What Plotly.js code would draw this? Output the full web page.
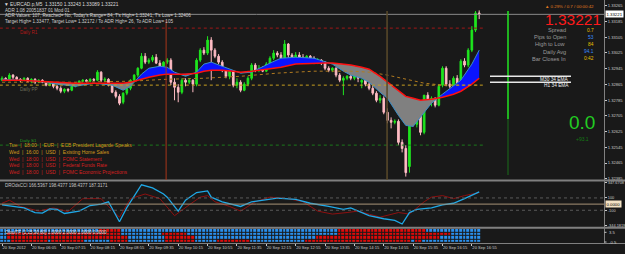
<!DOCTYPE html>
<html><head><meta charset="utf-8">
<script src="https://cdn.plot.ly/plotly-3.0.1.min.js"></script>
<style>html,body{margin:0;padding:0;background:#191919;overflow:hidden}#chart{width:625px;height:254px}</style>
</head><body><div id="chart"></div>
<script>
// ---------------- DATA ----------------
const symbolTitle = "\u25BC EURCAD.p,M5  1.33150 1.33243 1.33089 1.33221";
const infoLines = [
  "ADR 1.08 20051837 01 Mod 01",
  "ADR Values: 107, Reached= No, Today's Range= 84, T's High= 1.33241, T's Low= 1.32406",
  "Target High= 1.33477, Target Low= 1.32172 / To ADR High= 26, To ADR Low= 105"
];
const timeLabels = ["20 Sep 2012","20 Sep 06:05","20 Sep 07:15","20 Sep 08:15","20 Sep 08:55","20 Sep 09:35","20 Sep 10:15","20 Sep 10:55","20 Sep 11:35","20 Sep 12:15","20 Sep 12:55","20 Sep 13:35","20 Sep 14:15","20 Sep 14:55","20 Sep 15:35","20 Sep 16:15","20 Sep 16:55"];
const labelBars = [0,8,16,24,32,40,48,56,64,72,80,88,96,104,112,120,128];

const opens = [1.32886,1.32896,1.32886,1.32912,1.32901,1.32891,1.32886,1.32896,1.32881,1.32891,
1.32876,1.32886,1.32876,1.32861,1.32871,1.32855,1.32845,1.32830,1.32840,1.32835,
1.32855,1.32871,1.32881,1.32886,1.32881,1.32891,1.32886,1.32927,1.32886,1.32891,
1.32861,1.32825,1.32804,1.32774,1.32820,1.32845,1.32886,1.32912,1.32947,1.33008,
1.32978,1.32988,1.33003,1.32973,1.32957,1.32978,1.32988,1.32876,1.32850,1.32825,
1.32886,1.32876,1.32886,1.32866,1.32988,1.33039,1.33024,1.33090,1.33039,1.33008,
1.32978,1.32937,1.32906,1.32932,1.32861,1.32876,1.32835,1.32866,1.32896,1.32963,
1.32937,1.32947,1.32932,1.32968,1.32998,1.33024,1.33014,1.32998,1.33070,1.33014,
1.32988,1.33014,1.33003,1.32983,1.33008,1.32998,1.32978,1.32988,1.32973,1.32947,
1.32937,1.32947,1.32912,1.32886,1.32896,1.32906,1.32896,1.32917,1.32876,1.32886,
1.32866,1.32845,1.32820,1.32784,1.32794,1.32723,1.32682,1.32672,1.32677,1.32570,
1.32539,1.32447,1.32687,1.32662,1.32738,1.32621,1.32810,1.32774,1.32794,1.32759,
1.32861,1.32947,1.32866,1.32855,1.32896,1.32866,1.32983,1.32963,1.33039,1.33141,1.33228];
const highs = [1.32906,1.32901,1.32922,1.32917,1.32906,1.32896,1.32901,1.32901,1.32896,1.32896,
1.32891,1.32891,1.32881,1.32876,1.32876,1.32861,1.32855,1.32845,1.32845,1.32861,
1.32876,1.32886,1.32891,1.32891,1.32896,1.32896,1.32937,1.32932,1.32901,1.32896,
1.32866,1.32835,1.32815,1.32825,1.32850,1.32891,1.32917,1.32952,1.33024,1.33024,
1.32998,1.33014,1.33019,1.32988,1.32983,1.32998,1.32998,1.32896,1.32866,1.32896,
1.32896,1.32896,1.32891,1.32998,1.33049,1.33054,1.33110,1.33105,1.33049,1.33019,
1.32988,1.32947,1.32937,1.32937,1.32896,1.32886,1.32876,1.32906,1.32973,1.32973,
1.32963,1.32957,1.32978,1.33008,1.33039,1.33034,1.33029,1.33090,1.33075,1.33024,
1.33029,1.33029,1.33019,1.33014,1.33014,1.33008,1.32998,1.32993,1.32983,1.32957,
1.32952,1.32952,1.32922,1.32906,1.32912,1.32917,1.32927,1.32927,1.32891,1.32891,
1.32876,1.32861,1.32830,1.32810,1.32804,1.32743,1.32697,1.32687,1.32687,1.32585,
1.32555,1.32702,1.32702,1.32753,1.32779,1.32784,1.32825,1.32804,1.32799,1.32866,
1.32957,1.32957,1.32886,1.32906,1.32912,1.32993,1.32998,1.33049,1.33161,1.33238,1.33241];
const lows = [1.32881,1.32881,1.32881,1.32891,1.32886,1.32876,1.32881,1.32876,1.32871,1.32866,
1.32871,1.32871,1.32855,1.32855,1.32845,1.32835,1.32820,1.32820,1.32825,1.32830,
1.32850,1.32866,1.32876,1.32876,1.32876,1.32881,1.32881,1.32876,1.32876,1.32855,
1.32820,1.32794,1.32759,1.32764,1.32810,1.32835,1.32876,1.32901,1.32942,1.32968,
1.32968,1.32978,1.32968,1.32947,1.32952,1.32968,1.32861,1.32784,1.32774,1.32815,
1.32855,1.32866,1.32825,1.32855,1.32978,1.33014,1.33014,1.32886,1.32998,1.32968,
1.32927,1.32896,1.32891,1.32850,1.32845,1.32825,1.32830,1.32855,1.32886,1.32927,
1.32927,1.32927,1.32927,1.32957,1.32988,1.33003,1.32988,1.32988,1.32998,1.32978,
1.32983,1.32993,1.32973,1.32978,1.32978,1.32968,1.32968,1.32963,1.32937,1.32927,
1.32927,1.32901,1.32876,1.32810,1.32886,1.32886,1.32886,1.32876,1.32845,1.32855,
1.32835,1.32810,1.32774,1.32769,1.32713,1.32667,1.32641,1.32662,1.32555,1.32519,
1.32396,1.32416,1.32651,1.32646,1.32606,1.32611,1.32764,1.32753,1.32748,1.32753,
1.32850,1.32855,1.32845,1.32845,1.32855,1.32855,1.32952,1.32952,1.33029,1.33131,1.33197];
const closes = [1.32896,1.32886,1.32912,1.32901,1.32891,1.32886,1.32896,1.32881,1.32891,1.32876,
1.32886,1.32876,1.32861,1.32871,1.32855,1.32845,1.32830,1.32840,1.32835,1.32855,
1.32871,1.32881,1.32886,1.32881,1.32891,1.32886,1.32927,1.32886,1.32891,1.32861,
1.32825,1.32804,1.32769,1.32820,1.32845,1.32886,1.32912,1.32947,1.33008,1.32978,
1.32988,1.33003,1.32973,1.32957,1.32978,1.32988,1.32876,1.32850,1.32825,1.32886,
1.32876,1.32886,1.32866,1.32988,1.33039,1.33024,1.33090,1.33039,1.33008,1.32978,
1.32937,1.32906,1.32932,1.32861,1.32876,1.32835,1.32866,1.32896,1.32963,1.32937,
1.32947,1.32932,1.32968,1.32998,1.33024,1.33014,1.32998,1.33070,1.33014,1.32988,
1.33014,1.33003,1.32983,1.33008,1.32998,1.32978,1.32988,1.32973,1.32947,1.32937,
1.32947,1.32912,1.32886,1.32896,1.32906,1.32896,1.32917,1.32896,1.32886,1.32866,
1.32845,1.32820,1.32784,1.32794,1.32723,1.32682,1.32672,1.32677,1.32570,1.32539,
1.32416,1.32687,1.32667,1.32738,1.32621,1.32810,1.32774,1.32794,1.32759,1.32855,
1.32947,1.32866,1.32855,1.32896,1.32866,1.32983,1.32963,1.33039,1.33141,1.33228,1.33221];

// moving averages (read at sampled bars)
const maBars = [0,5,10,15,20,25,30,33,35,38,40,43,45,47,50,53,55,57,60,63,65,68,70,73,76,80,85,88,90,93,95,98,100,103,105,108,110,112,114,117,120,123,125,128,130];
const fastMA = [1.32891,1.32886,1.32881,1.32866,1.32855,1.32871,1.32861,1.32835,1.32855,1.32917,1.32947,1.32957,1.32952,1.32927,1.32906,1.32927,1.32968,1.32978,1.32957,1.32937,1.32922,1.32927,1.32947,1.32973,1.32998,1.33003,1.32998,1.32978,1.32968,1.32932,1.32912,1.32896,1.32876,1.32825,1.32794,1.32707,1.32656,1.32651,1.32697,1.32769,1.32815,1.32855,1.32886,1.32968,1.33039];
const slowMA = [1.32886,1.32886,1.32881,1.32876,1.32871,1.32871,1.32871,1.32871,1.32876,1.32891,1.32901,1.32912,1.32917,1.32917,1.32917,1.32922,1.32932,1.32937,1.32937,1.32932,1.32927,1.32932,1.32937,1.32947,1.32952,1.32968,1.32973,1.32973,1.32973,1.32968,1.32963,1.32952,1.32942,1.32906,1.32876,1.32830,1.32804,1.32794,1.32784,1.32789,1.32799,1.32815,1.32830,1.32866,1.32896];
const longBars = [0,20,35,45,55,65,75,85,95,100,105,110,115,120,125,130];
const longMA = [1.32876,1.32876,1.32881,1.32891,1.32896,1.32906,1.32922,1.32932,1.32932,1.32927,1.32912,1.32891,1.32871,1.32861,1.32861,1.32861];

// pivots & levels
const pivotNames = ["Daily R1","Daily PP","Daily S1"];
const pivotPrices = [1.33151,1.32861,1.32556];
const bidPrice = 1.33221;
const emaLevelNames = ["M30 34 EMA","H1 34 EMA"];
const emaLevelPrices = [1.32906,1.32876];
const priceTicks = [1.32385,1.32465,1.32545,1.32625,1.32705,1.32785,1.32865,1.32945,1.33025,1.33105,1.33185,1.33265];

// CCI
const cciLabel = "DROdsCCI 166.5367 198.4377 198.4377 187.3171";
const cciFastBars = [0,3,6,9,11,13,15,17,21,24,27,29,32,34,36,38,41,44,45,48,50,53,56,57,60,65,68,71,75,80,84,89,93,95,97,100,104,107,109,111,113,117,120,123,126,130];
const cciFast = [-12,-38,-62,-137,-147,-77,-87,-152,-113,-23,-2,38,-287,-57,138,314,263,164,113,-113,63,188,214,113,38,-38,38,63,98,78,14,-38,-87,-62,-113,-188,-238,-263,-323,-137,-87,-62,-12,14,89,198];
const cciSlowBars = [0,2,5,10,14,18,22,27,29,32,35,39,43,47,51,54,56,58,62,65,69,73,78,82,86,90,94,97,103,108,111,115,117,120,123,126,130];
const cciSlow = [14,63,-38,-113,-62,-122,89,89,-38,-212,89,164,89,-188,-12,113,138,38,-38,-113,38,113,89,38,-113,-162,-137,-113,-212,-137,-162,38,113,138,89,138,187];
const cciTicks = [347.6708,100,-100,-344.1819];

// multi-timeframe strip (runs of B=blue/up, R=red/down), top row first
const tfLabel = "OloulTF (1,15,30,60) 1.0000 2.0000 1.0000 0.0000";
const tfAxisLabels = ["3.5","-0.5"];
const tfRows = [
  [["B",27],["R",6],["B",59],["R",24],["B",15]],
  [["B",2],["R",31],["B",11],["R",7],["B",41],["R",31],["B",8]],
  [["B",2],["R",33],["B",10],["R",8],["B",33],["R",34],["B",11]],
  [["B",3],["R",10],["B",1],["R",9],["B",7],["R",5],["B",10],["R",8],["B",6],["R",9],["B",15],["R",29],["B",1],["R",2],["B",16]]
];

// news / info panel
const newsLines = [
  {t:"Tue  |  18:00  |  EUR  |  ECB President Lagarde Speaks", c:"#d49a1c"},
  {t:"Wed  |  16:00  |  USD  |  Existing Home Sales", c:"#d49a1c"},
  {t:"Wed  |  18:00  |  USD  |  FOMC Statement", c:"#d42020"},
  {t:"Wed  |  18:00  |  USD  |  Federal Funds Rate", c:"#d42020"},
  {t:"Wed  |  18:00  |  USD  |  FOMC Economic Projections", c:"#d42020"}
];
const infoNames = ["Spread","Pips to Open","High to Low","Daily Avg","Bar Closes In"];
const infoValues = ["0.7","53","84","94.1","0:42"];
const infoColors = ["#e8c000","#3a8cff","#e8c000","#3a8cff","#e8c000"];
const headerRight = "\u25B2 0.29% / 0.7 / 00:00:42";
const bigPrice = "1.33221";
const bigPips = "0.0";
const pipsChange = "+93.1";
const eventBars = [44.7, 104.9];

// ---------------- LAYOUT HELPERS ----------------
const PW = 604, PH = 243;
const px = x => x / PW;
const py = y => 1 - y / PH;
const F = "Liberation Sans, Arial, sans-serif";
const bars = closes.map((_, i) => i);

function ribbon(idx, fast, slow) {
  const xs = [], f = [], s = [];
  for (let k = 0; k < idx.length; k++) {
    if (k > 0) {
      const d0 = fast[k-1] - slow[k-1], d1 = fast[k] - slow[k];
      if (d0 * d1 < 0) {
        const t = d0 / (d0 - d1);
        xs.push(idx[k-1] + t * (idx[k] - idx[k-1]));
        const v = slow[k-1] + t * (slow[k] - slow[k-1]);
        f.push(v); s.push(v);
      }
    }
    xs.push(idx[k]); f.push(fast[k]); s.push(slow[k]);
  }
  return {xs, f, s};
}
const rb = ribbon(maBars, fastMA, slowMA);
const upper = rb.f.map((v, i) => Math.max(v, rb.s[i]));
const lower = rb.f.map((v, i) => Math.min(v, rb.s[i]));

const traces = [];
traces.push({x: rb.xs, y: rb.s, mode: 'lines', line: {width: 0}, xaxis: 'x', yaxis: 'y', hoverinfo: 'skip'});
traces.push({x: rb.xs, y: upper, mode: 'lines', line: {width: 0}, fill: 'tonexty', fillcolor: '#0a14ff', xaxis: 'x', yaxis: 'y', hoverinfo: 'skip'});
traces.push({x: rb.xs, y: rb.s, mode: 'lines', line: {width: 0}, xaxis: 'x', yaxis: 'y', hoverinfo: 'skip'});
traces.push({x: rb.xs, y: lower, mode: 'lines', line: {width: 0}, fill: 'tonexty', fillcolor: '#808080', xaxis: 'x', yaxis: 'y', hoverinfo: 'skip'});
traces.push({x: maBars, y: fastMA, mode: 'lines', line: {color: '#3a8ec8', width: 1}, xaxis: 'x', yaxis: 'y'});
traces.push({x: longBars, y: longMA, mode: 'lines', line: {color: '#b07a20', width: 1, dash: 'dot'}, xaxis: 'x', yaxis: 'y'});
traces.push({x: maBars, y: slowMA, mode: 'lines', line: {color: '#ff1010', width: 1.5}, xaxis: 'x', yaxis: 'y'});
traces.push({type: 'candlestick', x: bars, open: opens, high: highs, low: lows, close: closes,
  increasing: {line: {color: '#1ee61e', width: 1}, fillcolor: '#1ee61e'},
  decreasing: {line: {color: '#ffbcc4', width: 1}, fillcolor: '#ffbcc4'},
  whiskerwidth: 0, xaxis: 'x', yaxis: 'y', hoverinfo: 'skip'});
traces.push({x: cciSlowBars, y: cciSlow, mode: 'lines', line: {color: '#8e1010', width: 1}, xaxis: 'x', yaxis: 'y2'});
traces.push({x: cciFastBars, y: cciFast, mode: 'lines', line: {color: '#1fa8e6', width: 1.3}, xaxis: 'x', yaxis: 'y2'});
const zRows = tfRows.map(runs => { const r = []; runs.forEach(([c, n]) => { for (let k = 0; k < n; k++) r.push(c === 'B' ? 1 : 0); }); return r; });
traces.push({type: 'heatmap', x: bars, y: [3,2,1,0], z: zRows, zmin: 0, zmax: 1,
  colorscale: [[0, '#e00a0a'], [1, '#2a90ee']], showscale: false, xgap: 1, ygap: 1, xaxis: 'x', yaxis: 'y3', hoverinfo: 'skip'});

// ---------------- SHAPES ----------------
const shapes = [];
const grey = '#808080';
shapes.push({type: 'line', xref: 'paper', yref: 'paper', x0: 0, x1: px(625), y0: py(180.5), y1: py(180.5), line: {color: grey, width: 2}});
shapes.push({type: 'line', xref: 'paper', yref: 'paper', x0: 0, x1: px(625), y0: py(227.8), y1: py(227.8), line: {color: grey, width: 2}});
shapes.push({type: 'line', xref: 'paper', yref: 'paper', x0: 0, x1: px(625), y0: py(243.5), y1: py(243.5), line: {color: grey, width: 1}});
shapes.push({type: 'line', xref: 'paper', yref: 'paper', x0: px(604.5), x1: px(604.5), y0: py(0), y1: py(243.5), line: {color: grey, width: 1}});
shapes.push({type: 'line', xref: 'paper', yref: 'y', x0: 0, x1: 1, y0: bidPrice, y1: bidPrice, line: {color: '#8a8a8a', width: 1}});
const pivColors = ['#a01818', '#c8a020', '#1c7a1c'];
pivotPrices.forEach((p, i) => shapes.push({type: 'line', xref: 'x', yref: 'y', x0: -0.6, x1: 131, y0: p, y1: p, line: {color: pivColors[i], width: 1, dash: 'dot'}}));
shapes.push({type: 'line', xref: 'x', yref: 'paper', x0: eventBars[0], x1: eventBars[0], y0: py(20), y1: py(180), line: {color: '#a8361a', width: 1}});
shapes.push({type: 'line', xref: 'x', yref: 'paper', x0: eventBars[1], x1: eventBars[1], y0: py(11), y1: py(180), line: {color: '#5a4a2a', width: 1.5}});
shapes.push({type: 'line', xref: 'paper', yref: 'paper', x0: px(508), x1: px(508), y0: py(11), y1: py(119), line: {color: '#22e622', width: 1.5}});
shapes.push({type: 'line', xref: 'paper', yref: 'paper', x0: px(508), x1: px(508), y0: py(119), y1: py(175), line: {color: '#1a6e1a', width: 1}});
emaLevelPrices.forEach(p => shapes.push({type: 'line', xref: 'paper', yref: 'y', x0: px(490), x1: px(571), y0: p, y1: p, line: {color: '#e8e8e8', width: 1.5}}));
shapes.push({type: 'line', xref: 'paper', yref: 'y2', x0: 0, x1: 1, y0: 100, y1: 100, line: {color: '#5a5a5a', width: 1, dash: 'dot'}});
shapes.push({type: 'line', xref: 'paper', yref: 'y2', x0: 0, x1: 1, y0: -100, y1: -100, line: {color: '#5a5a5a', width: 1, dash: 'dot'}});
shapes.push({type: 'line', xref: 'paper', yref: 'y2', x0: 0, x1: 1, y0: 0, y1: 0, line: {color: '#a89478', width: 1}});
[232.3, 242].forEach(y => shapes.push({type: 'line', xref: 'paper', yref: 'paper', x0: px(604.5), x1: px(606.5), y0: py(y), y1: py(y), line: {color: '#c8c8c8', width: 1}}));

// ---------------- ANNOTATIONS ----------------
const ann = [];
function txt(t, x, y, size, color, anchor, extra) {
  ann.push(Object.assign({text: t, xref: 'paper', yref: 'paper', x: px(x), y: py(y), xanchor: anchor || 'left', yanchor: 'middle',
    showarrow: false, font: {family: F, size: size, color: color}}, extra || {}));
}
txt(symbolTitle, 2, 4.5, 4.8, '#dcdcdc');
infoLines.forEach((t, i) => txt(t, 3, 10.2 + i * 5.7, 4.6, '#d0d0d0'));
txt(pivotNames[0], 18, 32.3, 4.6, '#b01818');
txt(pivotNames[1], 18, 89, 4.6, '#6e6e5a');
txt(pivotNames[2], 18, 140.2, 4.4, '#22a022');
newsLines.forEach((n, i) => txt(n.t, 7, 144.8 + i * 6.85, 5, n.c));
txt(headerRight, 596, 6.7, 4.4, '#e07a20', 'right');
txt(bigPrice, 603, 19.6, 15.5, '#ff1a1a', 'right');
infoNames.forEach((n, i) => {
  const yy = 30 + i * 7.2;
  txt(n, 568, yy, 5.6, '#9a9a9a', 'right');
  txt(infoValues[i], 596, yy, 4.8, infoColors[i], 'right');
});
emaLevelNames.forEach((n, i) => txt(n, 571, 79.5 + i * 6.5, 4.8, '#f0f0f0', 'right'));
txt(bigPips, 597, 122.5, 19, '#22cc22', 'right');
txt(pipsChange, 591, 139, 5, '#147a14', 'right');
txt(cciLabel, 3, 185.5, 4.5, '#c8c8c8');
txt(tfLabel, 3, 232, 4.5, '#e8e8e8');
txt(tfAxisLabels[0], 607, 232.3, 4.2, '#c8c8c8');
txt(tfAxisLabels[1], 607, 242, 4.2, '#c8c8c8');
ann.push({text: bidPrice.toFixed(5), xref: 'paper', yref: 'y', x: px(605), y: bidPrice, xanchor: 'left', yanchor: 'middle', showarrow: false,
  bgcolor: '#ffffff', borderpad: 0.5, font: {family: F, size: 4.3, color: '#000000'}});
ann.push({text: '0.0000', xref: 'paper', yref: 'y2', x: px(605), y: 0, xanchor: 'left', yanchor: 'middle', showarrow: false,
  bgcolor: '#f3e2c4', borderpad: 0.5, font: {family: F, size: 4.3, color: '#000000'}});

// ---------------- LAYOUT ----------------
const axFont = {family: F, size: 4.1, color: '#c8c8c8'};
const layout = {
  width: 625, height: 254,
  margin: {l: 0, r: 21, t: 0, b: 11, pad: 0},
  paper_bgcolor: '#191919', plot_bgcolor: '#191919',
  showlegend: false, hovermode: false, dragmode: false,
  boxgap: 0.55, boxgroupgap: 0,
  xaxis: {domain: [0, 1], range: [-0.55, 164], anchor: 'y3', showgrid: false, zeroline: false, showline: false,
    tickvals: labelBars, ticktext: timeLabels, tickangle: 0, ticklabelposition: 'outside right', tickfont: axFont,
    ticks: 'outside', ticklen: 2, tickcolor: '#c8c8c8', ticklabelstandoff: 0, rangeslider: {visible: false}, fixedrange: true},
  yaxis: {domain: [py(180.5), 1], range: [1.32376, 1.33294], anchor: 'x', side: 'right', showgrid: false, zeroline: false,
    tickvals: priceTicks, ticktext: priceTicks.map(v => v.toFixed(5)), tickfont: axFont, ticks: 'outside', ticklen: 2, ticklabelstandoff: 0, tickcolor: '#c8c8c8', fixedrange: true},
  yaxis2: {domain: [py(225.3), py(182.7)], range: [-344.1819, 347.6708], anchor: 'x', side: 'right', showgrid: false, zeroline: false,
    tickvals: cciTicks, ticktext: cciTicks.map(v => Number.isInteger(v) ? String(v) : v.toFixed(4)), tickfont: {family: F, size: 3.9, color: '#c8c8c8'}, ticks: 'outside', ticklen: 2, ticklabelstandoff: 0, tickcolor: '#c8c8c8', fixedrange: true},
  yaxis3: {domain: [0, py(228.8)], range: [-0.5, 3.5], anchor: 'x', side: 'right', showgrid: false, zeroline: false,
    showticklabels: false, ticks: '', fixedrange: true},
  shapes: shapes, annotations: ann
};
Plotly.newPlot('chart', traces, layout, {staticPlot: true, displayModeBar: false});
</script></body></html>
